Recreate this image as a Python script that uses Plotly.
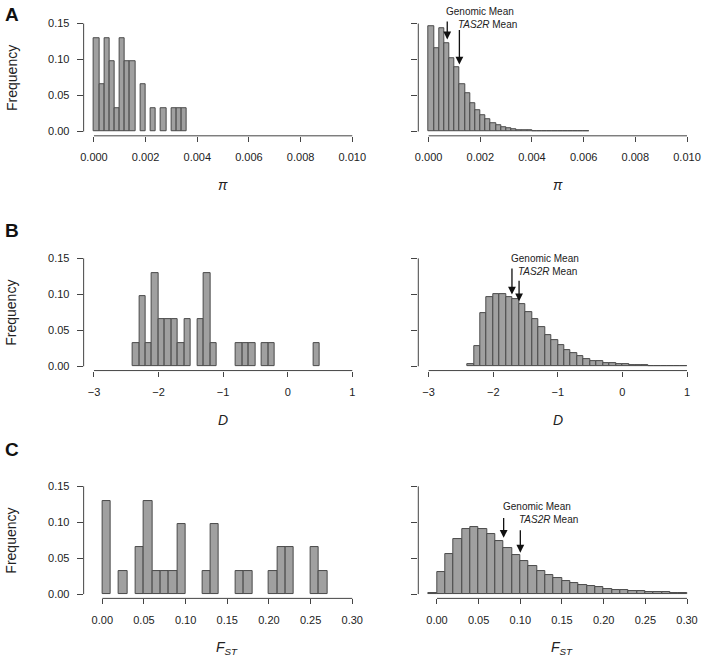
import numpy as np
import plotly.graph_objects as go

# Data ---
# Frequencies per bin (TAS2R genes left, genome right)
pi_bin_start = 0.0
pi_bin_width = 0.0002
pi_tas2r_freq = [0.129, 0.065, 0.129, 0.097, 0.032, 0.129, 0.097, 0.097, 0, 0.065,
                 0, 0.032, 0, 0.032, 0, 0.032, 0.032, 0.032]
pi_genome_freq = [0.146, 0.116, 0.144, 0.123, 0.102, 0.089, 0.065, 0.053, 0.039, 0.030,
                  0.022, 0.017, 0.012, 0.0087, 0.0064, 0.0046, 0.0032, 0.0023, 0.0018, 0.0014,
                  0.0010, 0.0008, 0.0006, 0.0005, 0.0004, 0.0003, 0.0002, 0.0002, 0.0001, 0.0001,
                  0.0001]

d_bin_start = -2.4
d_bin_width = 0.1
d_tas2r_freq = [0.032, 0.097, 0.032, 0.129, 0.065, 0.065, 0.065, 0.032, 0.065, 0,
                0.065, 0.129, 0.032, 0, 0, 0, 0.032, 0.032, 0.032, 0,
                0.032, 0.032, 0, 0, 0, 0, 0, 0, 0.032]
d_genome_freq = [0.0032, 0.028, 0.074, 0.096, 0.0997, 0.0997, 0.0965, 0.0937, 0.087, 0.076,
                 0.065, 0.0545, 0.044, 0.036, 0.029, 0.023, 0.0185, 0.0143, 0.0106, 0.0078,
                 0.0065, 0.0046, 0.0037, 0.0028, 0.0023, 0.0018, 0.0014, 0.0011, 0.0008, 0.0006,
                 0.0005, 0.0004, 0.0003, 0.0002]

fst_bin_start = -0.01
fst_bin_width = 0.01
fst_tas2r_freq = [0, 0.129, 0, 0.032, 0, 0.065, 0.129, 0.032, 0.032, 0.032,
                  0.097, 0, 0, 0.032, 0.097, 0, 0, 0.032, 0.032, 0,
                  0, 0.032, 0.065, 0.065, 0, 0, 0.065, 0.032]
fst_genome_freq = [0.001, 0.0305, 0.056, 0.077, 0.090, 0.093, 0.0905, 0.0835, 0.074, 0.064,
                   0.054, 0.046, 0.039, 0.032, 0.027, 0.0226, 0.0185, 0.0157, 0.0129, 0.0111,
                   0.0092, 0.0074, 0.006, 0.0051, 0.0042, 0.0037, 0.0032, 0.0028, 0.0023, 0.0021,
                   0.0018]

genomic_mean = [0.00072, -1.71, 0.080]
tas2r_mean = [0.00119, -1.60, 0.100]

pi_ticks = [0.000, 0.002, 0.004, 0.006, 0.008, 0.010]
pi_ticktext = ["0.000", "0.002", "0.004", "0.006", "0.008", "0.010"]
d_ticks = [-3, -2, -1, 0, 1]
d_ticktext = ["\u22123", "\u22122", "\u22121", "0", "1"]
fst_ticks = [0.00, 0.05, 0.10, 0.15, 0.20, 0.25, 0.30]
fst_ticktext = ["0.00", "0.05", "0.10", "0.15", "0.20", "0.25", "0.30"]
freq_ticks = [0.00, 0.05, 0.10, 0.15]
freq_ticktext = ["0.00", "0.05", "0.10", "0.15"]

# Layout helpers ---
FONT = "Liberation Sans, Arial, sans-serif"
AXIS_COLOR = "#444444"
BAR_FILL = "#a0a0a0"
BAR_LINE = "#4a4a4a"
YRANGE = [-0.006, 0.156]

x_domains = [[0.1152, 0.5137], [0.5933, 0.9919]]
y_domains = [[0.7957, 0.9737], [0.4373, 0.6151], [0.0895, 0.2671]]


def ydom(v):
    """frequency value -> fraction of the y domain (lets labels sit above the range)"""
    return (v - YRANGE[0]) / (YRANGE[1] - YRANGE[0])


rows = [
    dict(start=pi_bin_start, width=pi_bin_width, left=pi_tas2r_freq, right=pi_genome_freq,
         xlim=(0.0, 0.010), ticks=pi_ticks, ticktext=pi_ticktext,
         title="<i>\u03c0</i>", letter="A", title_shift=-49, letter_shift=5,
         arrows=dict(gen_head=0.128, gen_tail=0.155, gen_text=0.167,
                     tas_head=0.093, tas_tail=0.143, tas_text=0.149)),
    dict(start=d_bin_start, width=d_bin_width, left=d_tas2r_freq, right=d_genome_freq,
         xlim=(-3, 1), ticks=d_ticks, ticktext=d_ticktext,
         title="<i>D</i>", letter="B", title_shift=-49, letter_shift=24,
         arrows=dict(gen_head=0.0997, gen_tail=0.138, gen_text=0.1505,
                     tas_head=0.0905, tas_tail=0.121, tas_text=0.132)),
    dict(start=fst_bin_start, width=fst_bin_width, left=fst_tas2r_freq, right=fst_genome_freq,
         xlim=(-0.01, 0.30), ticks=fst_ticks, ticktext=fst_ticktext,
         title="<i>F<sub>ST</sub></i>", letter="C", title_shift=-50, letter_shift=33,
         arrows=dict(gen_head=0.0785, gen_tail=0.108, gen_text=0.1218,
                     tas_head=0.0577, tas_tail=0.091, tas_text=0.1038)),
]

fig = go.Figure()
layout = {}
annotations = []
shapes = []

for r, row in enumerate(rows):
    span = row["xlim"][1] - row["xlim"][0]
    xrange = [row["xlim"][0] - 0.04 * span, row["xlim"][1] + 0.04 * span]
    for c, side in enumerate(["left", "right"]):
        idx = r * 2 + c + 1
        xa = "x" if idx == 1 else f"x{idx}"
        ya = "y" if idx == 1 else f"y{idx}"
        freq = row[side]
        edges = row["start"] + row["width"] * np.arange(len(freq))
        fig.add_trace(go.Bar(
            x=edges + row["width"] / 2,
            y=[f if f > 0 else None for f in freq],
            width=row["width"],
            marker=dict(color=BAR_FILL, line=dict(color=BAR_LINE, width=1)),
            xaxis=xa, yaxis=ya, showlegend=False, hoverinfo="skip",
        ))
        layout[f"xaxis{idx if idx > 1 else ''}"] = dict(
            domain=x_domains[c], anchor=ya, range=xrange,
            tickvals=row["ticks"], ticktext=row["ticktext"],
            ticks="outside", ticklen=5, tickwidth=1, tickcolor=AXIS_COLOR,
            ticklabelstandoff=6, ticklabeloverflow="allow",
            showline=False, showgrid=False, zeroline=False,
            tickfont=dict(family=FONT, size=11, color="#222222"),
        )
        layout[f"yaxis{idx if idx > 1 else ''}"] = dict(
            domain=y_domains[r], anchor=xa, range=YRANGE,
            tickvals=freq_ticks, ticktext=freq_ticktext,
            showticklabels=(c == 0),
            ticks="outside", ticklen=6, tickwidth=1, tickcolor=AXIS_COLOR,
            ticklabelstandoff=5,
            showline=False, showgrid=False, zeroline=False,
            tickfont=dict(family=FONT, size=11, color="#222222"),
        )
        # R style axis lines, spanning the first to last tick only
        shapes.append(dict(type="line", xref=xa, yref=f"{ya} domain",
                           x0=row["ticks"][0], x1=row["ticks"][-1], y0=0, y1=0,
                           line=dict(color=AXIS_COLOR, width=1)))
        shapes.append(dict(type="line", xref=f"{xa} domain", yref=ya,
                           x0=0, x1=0, y0=freq_ticks[0], y1=freq_ticks[-1],
                           line=dict(color=AXIS_COLOR, width=1)))
        annotations.append(dict(
            text=row["title"], xref=xa, yref=f"{ya} domain",
            x=(row["ticks"][0] + row["ticks"][-1]) / 2, y=0,
            yshift=row["title_shift"], yanchor="middle", showarrow=False,
            font=dict(family=FONT, size=14, color="#222222"),
        ))
        if c == 0:
            annotations.append(dict(
                text="Frequency", xref="paper", yref=ya, x=8.5 / 706, y=0.075,
                textangle=-90, xanchor="center", yanchor="middle", showarrow=False,
                font=dict(family=FONT, size=14, color="#222222"),
            ))
            annotations.append(dict(
                text=f"<b>{row['letter']}</b>", xref="paper", yref=f"{ya} domain",
                x=0.0, y=1, yshift=row["letter_shift"], xanchor="left", yanchor="middle",
                showarrow=False, font=dict(family=FONT, size=19, color="#111111"),
            ))
        else:
            a = row["arrows"]
            for mean, head, tail, ytext, label in [
                (genomic_mean[r], a["gen_head"], a["gen_tail"], a["gen_text"], "Genomic Mean"),
                (tas2r_mean[r], a["tas_head"], a["tas_tail"], a["tas_text"], "<i>TAS2R</i> Mean"),
            ]:
                annotations.append(dict(
                    x=mean, y=head, ax=mean, ay=tail, xref=xa, yref=ya, axref=xa, ayref=ya,
                    text="", showarrow=True, arrowhead=2, arrowsize=1.2, arrowwidth=1.3,
                    arrowcolor="#111111", standoff=0,
                ))
                annotations.append(dict(
                    x=mean, y=ydom(ytext), xref=xa, yref=f"{ya} domain", text=label,
                    showarrow=False, xanchor="left", yanchor="middle", xshift=-3,
                    font=dict(family=FONT, size=10, color="#222222"),
                ))

fig.update_layout(
    **layout,
    annotations=annotations,
    shapes=shapes,
    bargap=0,
    width=706, height=659,
    margin=dict(l=0, r=0, t=0, b=0),
    plot_bgcolor="white",
    paper_bgcolor="white",
)

# page body has an 8px default margin; drop it so the figure fills the window
fig.write_html("out.html", config={"displayModeBar": False},
               post_script="document.body.style.margin='0';")
